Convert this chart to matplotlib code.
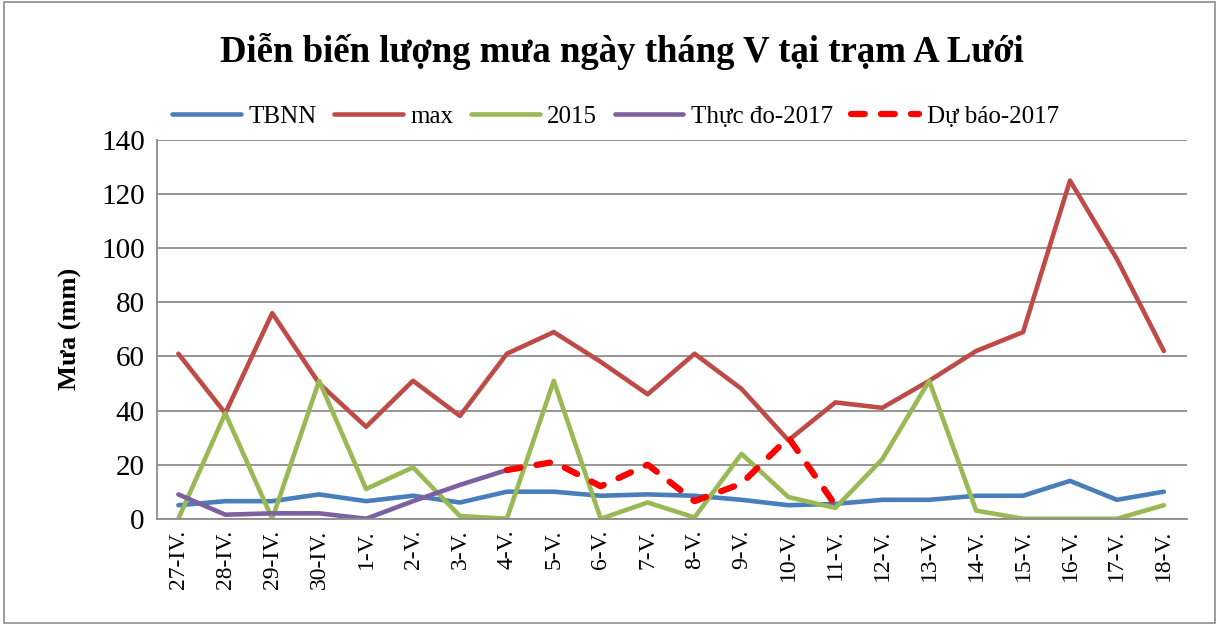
import numpy as np
import matplotlib
matplotlib.use('Agg')
import matplotlib.pyplot as plt
from matplotlib.patches import Rectangle

days = ['27-IV.', '28-IV.', '29-IV.', '30-IV.', '1-V.', '2-V.', '3-V.', '4-V.',
        '5-V.', '6-V.', '7-V.', '8-V.', '9-V.', '10-V.', '11-V.', '12-V.',
        '13-V.', '14-V.', '15-V.', '16-V.', '17-V.', '18-V.']
tbnn = [5, 6.5, 6.5, 9, 6.5, 8.5, 6, 10, 10, 8.5, 9, 8.5, 7, 5, 5.5, 7, 7,
        8.5, 8.5, 14, 7, 10]
rain_max = [61, 39, 76, 50, 34, 51, 38, 61, 69, 58, 46, 61, 48, 29, 43, 41,
            51, 62, 69, 125, 96, 62]
y2015 = [0, 39, 0, 51, 11, 19, 1, 0, 51, 0, 6, 0.5, 24, 8, 4, 22, 51, 3, 0,
         0, 0, 5]
thuc_do = [9, 1.5, 2, 2, 0, 6.5, 12.5, 18] + [np.nan] * 14
du_bao = [np.nan] * 7 + [18, 21, 12, 20, 6.5, 13, 30, 5] + [np.nan] * 7

plt.rcParams['font.family'] = ['Liberation Serif', 'DejaVu Serif']

fig = plt.figure(figsize=(12.19, 6.25), dpi=100)
ax = fig.add_axes([0.129, 0.170, 0.845, 0.606])
x = np.arange(len(days))

lw = 3.3
ax.plot(x, tbnn, color='#4A7EBB', lw=lw, label='TBNN', solid_capstyle='round')
ax.plot(x, rain_max, color='#BE4B48', lw=lw, label='max', solid_capstyle='round')
ax.plot(x, y2015, color='#98B954', lw=lw, label='2015', solid_capstyle='round')
ax.plot(x, thuc_do, color='#7D60A0', lw=lw, label='Thực đo-2017', solid_capstyle='round')
ax.plot(x, du_bao, color='#FF0000', lw=4.5, ls=(0, (2.2, 2.6)), label='Dự báo-2017',
        dash_capstyle='round')

ax.set_xlim(-0.45, 21.5)
ax.set_ylim(0, 140)
ax.set_yticks(range(0, 141, 20))
ax.set_xticks(x)
ax.set_xticklabels(days, rotation=90, fontsize=17)
ax.tick_params(axis='y', labelsize=21, length=0, pad=9)
ax.tick_params(axis='x', length=0, pad=8)
ax.grid(axis='y', color='#8c8c8c', lw=1.3)
ax.set_axisbelow(True)
for s in ['top', 'right']:
    ax.spines[s].set_visible(False)
for s in ['left', 'bottom']:
    ax.spines[s].set_color('#8c8c8c')
    ax.spines[s].set_linewidth(1.3)
ax.set_ylabel('Mưa (mm)', fontsize=19, fontweight='bold', labelpad=14)

fig.text(0.510, 0.917, 'Diễn biến lượng mưa ngày tháng V tại trạm A Lưới',
         ha='center', va='center', fontsize=26.5, fontweight='bold')
fig.legend(loc='center', bbox_to_anchor=(0.505, 0.813), ncol=5, frameon=False,
           fontsize=18, handlelength=2.75, columnspacing=0.7, handletextpad=0.3)

fig.patches.append(Rectangle((0.003, 0.003), 0.994, 0.994, transform=fig.transFigure,
                             fill=False, edgecolor='#8c8c8c', lw=1.2))

fig.savefig('out.png', dpi=100)
